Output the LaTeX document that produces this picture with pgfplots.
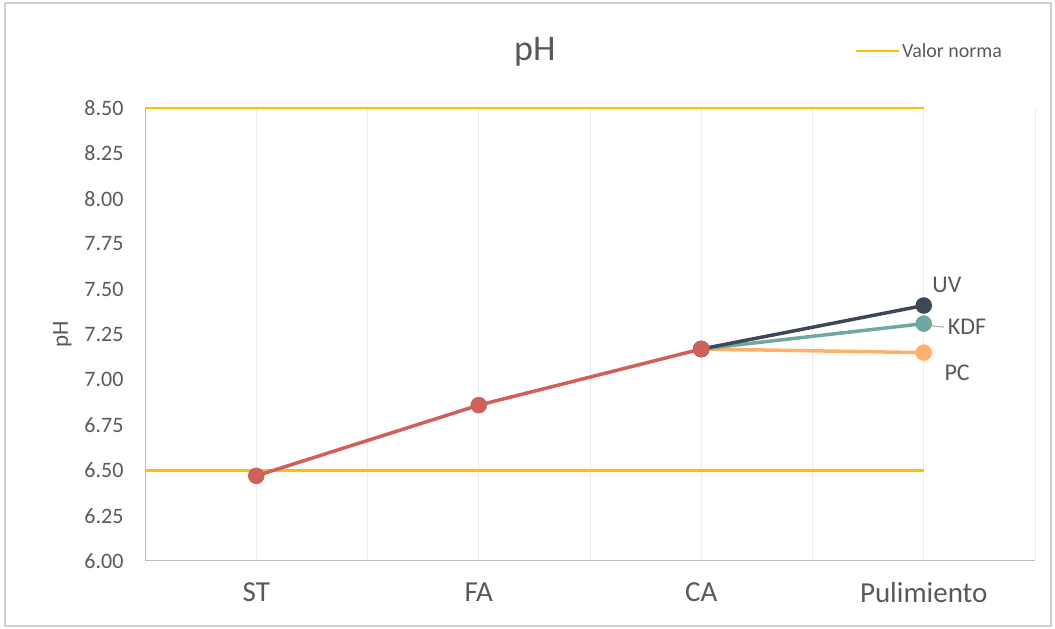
\documentclass[border=0pt]{standalone}
\usepackage{fontspec}
\setmainfont{Carlito}
\usepackage{pgfplots}
\pgfplotsset{compat=1.18}
\definecolor{norma}{HTML}{FFC000}
\definecolor{serie}{HTML}{D0605A}
\definecolor{uv}{HTML}{3F4756}
\definecolor{kdf}{HTML}{6FA8A0}
\definecolor{pc}{HTML}{FFB06A}
\definecolor{txt}{HTML}{595959}
\begin{document}
\begin{tikzpicture}
\path[use as bounding box] (0pt,0pt) rectangle (1055pt,629pt);
\draw[gray!35, line width=1.5pt] (5pt,3pt) rectangle (1051pt,626pt);
\begin{axis}[
  at={(145pt,68pt)}, anchor=south west,
  scale only axis, width=890pt, height=453pt,
  xmin=-0.5, xmax=3.5, ymin=6, ymax=8.5,
  xtick={0,1,2,3}, xticklabels={ST,FA,CA,Pulimiento},
  minor xtick={0.5,1.5,2.5,3.5},
  ytick={6,6.25,6.5,6.75,7,7.25,7.5,7.75,8,8.25,8.5},
  yticklabel style={/pgf/number format/fixed, /pgf/number format/fixed zerofill,
    /pgf/number format/precision=2, /pgf/number format/assume math mode=true},
  yticklabel style={font=\fontsize{22}{22}\selectfont, text=txt, xshift=-18pt},
  xticklabel style={font=\fontsize{29}{29}\selectfont, text=txt, yshift=-18pt},
  ylabel={pH}, ylabel style={font=\fontsize{23}{23}\selectfont, text=txt},
  ylabel shift=6pt,
  xmajorgrids, xminorgrids, grid style={gray!15, line width=0.8pt},
  major tick length=0pt, minor tick length=0pt,
  axis x line*=bottom, axis y line*=left,
  axis line style={gray!50, line width=1pt, -},
  clip=false,
  legend style={draw=none, fill=none, at={(0.797,1.126)}, anchor=west,
    font=\fontsize{20}{20}\selectfont, text=txt, inner sep=0pt},
  legend image code/.code={\draw[#1] (0pt,0pt) -- (43pt,0pt);},
]
\addplot[norma, line width=2.5pt] coordinates {(-0.5,8.5) (3,8.5)};
\addlegendentry{Valor norma}
\addplot[norma, line width=2.5pt, forget plot] coordinates {(-0.5,6.5) (3,6.5)};

\addplot[pc, line width=3.5pt, mark=*, mark size=6.5pt, forget plot] coordinates {(2,7.17) (3,7.15)};
\addplot[kdf, line width=3.5pt, mark=*, mark size=6.5pt, forget plot] coordinates {(2,7.17) (3,7.31)};
\addplot[uv, line width=3.5pt, mark=*, mark size=6.5pt, forget plot] coordinates {(2,7.17) (3,7.41)};
\addplot[serie, line width=3.5pt, mark=*, mark size=6.5pt, forget plot] coordinates {(0,6.47) (1,6.86) (2,7.17)};

\draw[gray!70, line width=1pt] (axis cs:3.03,7.30) -- (axis cs:3.09,7.29);
\node[text=txt, font=\fontsize{24}{24}\selectfont] at (axis cs:3.104,7.523) {UV};
\node[text=txt, font=\fontsize{24}{24}\selectfont] at (axis cs:3.194,7.29) {KDF};
\node[text=txt, font=\fontsize{24}{24}\selectfont] at (axis cs:3.15,7.04) {PC};
\node[text=txt, font=\fontsize{36}{36}\selectfont] at (rel axis cs:0.438,1.125) {pH};
\end{axis}
\end{tikzpicture}
\end{document}
